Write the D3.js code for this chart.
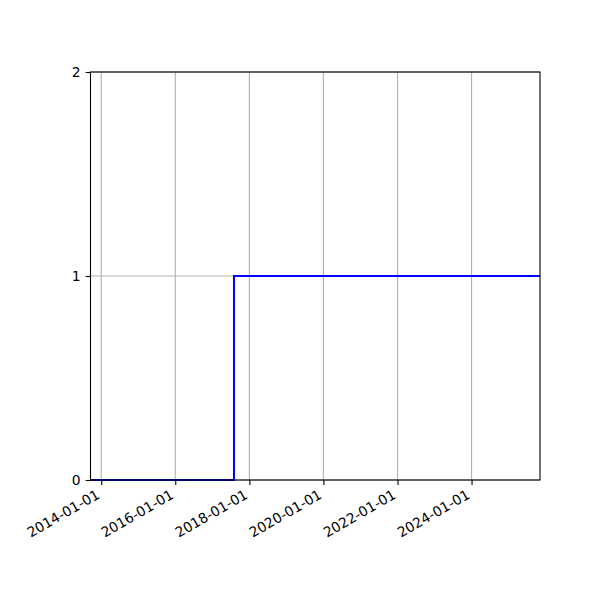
<!DOCTYPE html>
<html>
<head>
<meta charset="utf-8">
<script src="https://cdn.jsdelivr.net/npm/d3@7"></script>
<style>
  body { margin: 0; background: #fff; }
  text { font-family: "DejaVu Sans", sans-serif; }
</style>
</head>
<body>
<script>
// data
const dates = ["2013-09-17", "2017-08-02", "2025-11-06"];
const values = [0, 1, 1];
const yTicks = [0, 1, 2];
const xTickLabels = ["2014-01-01", "2016-01-01", "2018-01-01", "2020-01-01", "2022-01-01", "2024-01-01"];

const width = 600, height = 600;
const margin = {left: 90.5, right: 60, top: 72, bottom: 120};

const parse = d3.timeParse("%Y-%m-%d");
const data = dates.map((d, i) => ({date: parse(d), value: values[i]}));

const svg = d3.select("body").append("svg")
    .attr("width", width)
    .attr("height", height);

const x = d3.scaleTime()
    .domain(d3.extent(data, d => d.date))
    .range([margin.left, width - margin.right]);
const y = d3.scaleLinear()
    .domain([0, 2])
    .range([height - margin.bottom, margin.top]);

const xTicks = xTickLabels.map(parse);

// grid
svg.append("g").selectAll("line").data(xTicks).enter()
    .append("line")
    .attr("x1", d => x(d)).attr("x2", d => x(d))
    .attr("y1", y(0)).attr("y2", y(2))
    .attr("stroke", "#b0b0b0").attr("stroke-width", 1.1);
svg.append("g").selectAll("line").data(yTicks).enter()
    .append("line")
    .attr("x1", x.range()[0]).attr("x2", x.range()[1])
    .attr("y1", d => y(d)).attr("y2", d => y(d))
    .attr("stroke", "#b0b0b0").attr("stroke-width", 1.1);

// step line
const line = d3.line()
    .x(d => x(d.date))
    .y(d => y(d.value))
    .curve(d3.curveStepAfter);

svg.append("path")
    .datum(data)
    .attr("d", line)
    .attr("fill", "none")
    .attr("stroke", "#0000ff")
    .attr("stroke-width", 2);

// frame
svg.append("rect")
    .attr("x", x.range()[0]).attr("y", y(2))
    .attr("width", x.range()[1] - x.range()[0])
    .attr("height", y(0) - y(2))
    .attr("fill", "none")
    .attr("stroke", "#000").attr("stroke-width", 1.1);

// axes
const xaxis = d3.axisBottom(x)
    .tickValues(xTicks)
    .tickFormat(d3.timeFormat("%Y-%m-%d"))
    .tickSize(4.9).tickPadding(4.9);
const yaxis = d3.axisLeft(y)
    .tickValues(yTicks)
    .tickFormat(d3.format("d"))
    .tickSize(4.9).tickPadding(4.9);

const gx = svg.append("g")
    .attr("transform", "translate(0," + y(0) + ")")
    .call(xaxis);
gx.select(".domain").remove();
gx.selectAll(".tick line").attr("stroke-width", 1.1);
// rotated labels: end of text sits just left of the tick, below the pad
gx.selectAll(".tick text")
    .attr("font-size", "13.9px")
    .attr("font-family", "DejaVu Sans")
    .attr("fill", "#000")
    .attr("text-anchor", "end")
    .attr("x", 0).attr("y", 0).attr("dy", 0)
    .attr("transform", "translate(-1.2,17.5) rotate(-30)");

const gy = svg.append("g")
    .attr("transform", "translate(" + x.range()[0] + ",0)")
    .call(yaxis);
gy.select(".domain").remove();
gy.selectAll(".tick line").attr("stroke-width", 1.1);
gy.selectAll(".tick text")
    .attr("font-size", "13.9px")
    .attr("font-family", "DejaVu Sans")
    .attr("fill", "#000");
</script>
</body>
</html>
